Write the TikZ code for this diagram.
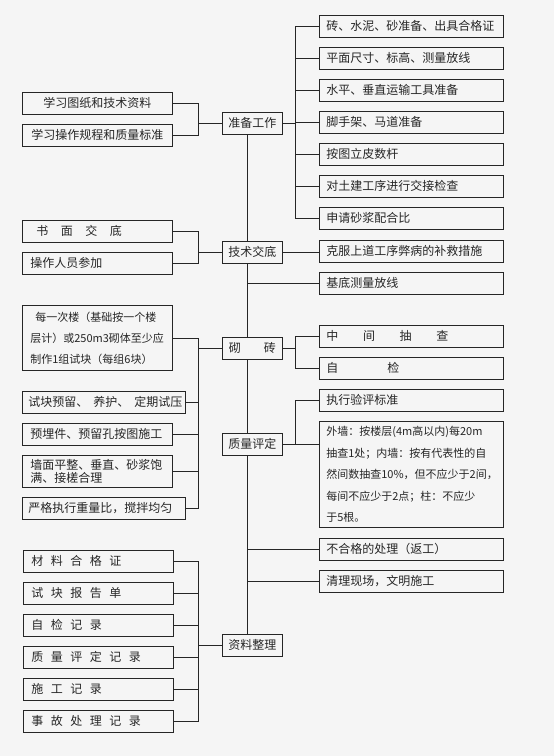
\documentclass[tikz,border=0pt]{standalone}
\usepackage{fontspec}
\newfontfamily\cjk{Noto Sans CJK SC}
\newcommand\sg{\hspace{7.5pt}}
\begin{document}
\begin{tikzpicture}[x=1pt,y=-1pt,
  box/.style={draw=black!85, line width=0.7pt, rectangle, anchor=north west, inner ysep=0pt,
    minimum height=22pt, font=\cjk\fontsize{12}{14}\selectfont, text=black!85},
  rbox/.style={box, text width=170pt, inner xsep=7pt, align=left},
  lbox/.style={box, text width=134pt, inner xsep=8pt, align=left},
  lwbox/.style={box, text width=151pt, inner xsep=6pt, align=left},
  cbox/.style={box, text width=60pt, inner xsep=0pt, align=center},
  ln/.style={draw=black!85, line width=0.7pt}]
\fill[black!4] (0,0) rectangle (554,756);
\useasboundingbox (0,0) rectangle (554,756);
\coordinate (T) at (247,0);
\coordinate (LB) at (198,0);
\coordinate (RB) at (295,0);

% central column
\node[cbox] (zb) at (222,112) {准备工作};
\node[cbox] (js) at (222,241) {技术交底};
\node[cbox] (qz) at (222,337) {\mbox{砌\hspace{23pt}砖}};
\node[cbox] (zp) at (222,433) {质量评定};
\node[cbox] (zl) at (222,634) {资料整理};

% right column
\node[rbox] (r1) at (319,15) {砖、水泥、砂准备、出具合格证};
\node[rbox] (r2) at (319,47) {平面尺寸、标高、测量放线};
\node[rbox] (r3) at (319,79) {水平、垂直运输工具准备};
\node[rbox] (r4) at (319,111) {脚手架、马道准备};
\node[rbox] (r5) at (319,143) {按图立皮数杆};
\node[rbox] (r6) at (319,175) {对土建工序进行交接检查};
\node[rbox] (r7) at (319,207) {申请砂浆配合比};
\node[rbox] (kf) at (319,240) {克服上道工序弊病的补救措施};
\node[rbox] (jd) at (319,272) {基底测量放线};
\node[rbox] (zj) at (319,325) {\mbox{中\hspace{24.7pt}间\hspace{24.7pt}抽\hspace{24.7pt}查}};
\node[rbox] (zjc) at (319,357) {\mbox{自\hspace{49pt}检}};
\node[rbox] (zx) at (319,389) {执行验评标准};
\node[rbox, minimum height=106pt, font=\cjk\fontsize{11}{21.5}\selectfont] (big) at (319,421)
  {外墙：按楼层(4m高以内)每20m\\抽查1处；内墙：按有代表性的自\\然间数抽查10\%，但不应少于2间，\\每间不应少于2点；柱：不应少\\于5根。};
\node[rbox] (bh) at (319,538) {不合格的处理（返工）};
\node[rbox] (ql) at (319,570) {清理现场，文明施工};

% left column
\node[lbox, align=center] (l1) at (22,92) {学习图纸和技术资料};
\node[lbox, align=center] (l2) at (22,124) {学习操作规程和质量标准};
\node[lbox] (sm) at (22,220) {\mbox{\hspace*{6pt}书\hspace{12.5pt}面\hspace{12.5pt}交\hspace{12.5pt}底}};
\node[lbox] (cz) at (22,252) {操作人员参加};
\node[lbox, minimum height=65pt, font=\cjk\fontsize{11}{21}\selectfont] (mc) at (22,305)
  {\hspace*{5pt}每一次楼（基础按一个楼\\层计）或250m3砌体至少应\\制作1组试块（每组6块）};
\node[lwbox] (sk) at (22,391) {\mbox{试块预留、\hspace{5pt}养护、\hspace{5pt}定期试压}};
\node[lbox] (ym) at (22,423) {预埋件、预留孔按图施工};
\node[lbox, minimum height=32pt, font=\cjk\fontsize{12}{13}\selectfont] (qm) at (22,455)
  {墙面平整、垂直、砂浆饱\\满、接槎合理};
\node[lwbox] (yg) at (22,497) {严格执行重量比，搅拌均匀};
\node[lbox] (cl) at (23,550) {\mbox{材\sg 料\sg 合\sg 格\sg 证}};
\node[lbox] (sb) at (23,582) {\mbox{试\sg 块\sg 报\sg 告\sg 单}};
\node[lbox] (zjj) at (23,614) {\mbox{自\sg 检\sg 记\sg 录}};
\node[lbox] (zpj) at (23,646) {\mbox{质\sg 量\sg 评\sg 定\sg 记\sg 录}};
\node[lbox] (sgj) at (23,678) {\mbox{施\sg 工\sg 记\sg 录}};
\node[lbox] (sgc) at (23,710) {\mbox{事\sg 故\sg 处\sg 理\sg 记\sg 录}};

% trunk
\draw[ln] (zb.south -| T) -- (js.north -| T);
\draw[ln] (js.south -| T) -- (qz.north -| T);
\draw[ln] (qz.south -| T) -- (zp.north -| T);
\draw[ln] (zp.south -| T) -- (zl.north -| T);
\draw[ln] (jd.west) -- (jd.west -| T);
\draw[ln] (bh.west) -- (bh.west -| T);
\draw[ln] (ql.west) -- (ql.west -| T);

% 准备工作
\draw[ln] (zb.east) -- (zb.east -| RB);
\draw[ln] (r1.west -| RB) -- (r7.west -| RB);
\foreach \n in {r1,r2,r3,r4,r5,r6,r7} \draw[ln] (\n.west) -- (\n.west -| RB);
\draw[ln] (l1.east) -- (l1.east -| LB) -- (l2.east -| LB) -- (l2.east);
\draw[ln] (zb.west) -- (zb.west -| LB);

% 技术交底
\draw[ln] (js.east) -- (js.east -| kf.west);
\draw[ln] (sm.east) -- (sm.east -| LB) -- (cz.east -| LB) -- (cz.east);
\draw[ln] (js.west) -- (js.west -| LB);

% 砌砖
\draw[ln] (qz.east) -- (qz.east -| RB);
\draw[ln] (zj.west) -- (zj.west -| RB) -- (zjc.west -| RB) -- (zjc.west);
\draw[ln] (qz.west) -- (qz.west -| LB);
\draw[ln] (mc.east) -- (mc.east -| LB) -- (yg.east -| LB) -- (yg.east);
\foreach \n in {sk,ym,qm} \draw[ln] (\n.east) -- (\n.east -| LB);

% 质量评定
\draw[ln] (zp.east) -- (zp.east -| big.west);
\draw[ln] (zx.west) -- (zx.west -| RB) -- (zp.east -| RB);

% 资料整理
\draw[ln] (zl.west) -- (zl.west -| LB);
\draw[ln] (cl.east) -- (cl.east -| LB) -- (sgc.east -| LB) -- (sgc.east);
\foreach \n in {sb,zjj,zpj,sgj} \draw[ln] (\n.east) -- (\n.east -| LB);
\end{tikzpicture}
\end{document}
